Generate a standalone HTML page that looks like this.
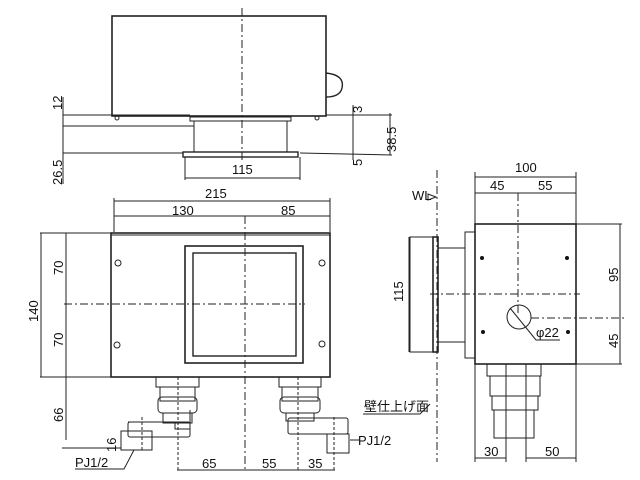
<!DOCTYPE html>
<html><head><meta charset="utf-8"><style>
html,body{margin:0;padding:0;background:#fff;}
svg{display:block}
text{font-family:"Liberation Sans","Noto Sans CJK JP",sans-serif;font-size:13px;fill:#111}
</style></head><body>
<svg width="640" height="480" viewBox="0 0 640 480" xmlns="http://www.w3.org/2000/svg">
<g stroke="#222" fill="none" stroke-width="1">
<!-- TOP VIEW -->
<rect x="112" y="16" width="214" height="100" stroke-width="1.6"/>
<path d="M326 73 Q345 75 342 88 Q340 97 326 97" stroke-width="1.4"/>
<line x1="242" y1="8" x2="242" y2="162" stroke-dasharray="8,3,2,3"/>
<rect x="190" y="117" width="101" height="4"/>
<rect x="194" y="121" width="93" height="31"/>
<rect x="183" y="152" width="115" height="5" stroke-width="1.4"/>
<circle cx="117" cy="118" r="2"/><circle cx="317" cy="118" r="2"/>
<line x1="63" y1="115" x2="190" y2="115"/>
<line x1="63" y1="126" x2="194" y2="126"/>
<line x1="63" y1="153" x2="183" y2="153"/>
<line x1="63" y1="97" x2="63" y2="184"/>
<line x1="326" y1="115" x2="392" y2="115"/>
<line x1="300" y1="153" x2="392" y2="155"/>
<line x1="353" y1="105" x2="353" y2="160"/>
<line x1="390" y1="113" x2="390" y2="155"/>
<line x1="185" y1="157" x2="185" y2="180"/><line x1="300" y1="157" x2="300" y2="180"/>
<line x1="185" y1="178" x2="300" y2="178"/>
<!-- FRONT VIEW -->
<line x1="114" y1="201" x2="330" y2="201"/>
<line x1="114" y1="198" x2="114" y2="232"/><line x1="330" y1="198" x2="330" y2="232"/>
<line x1="114" y1="216" x2="330" y2="216"/>
<rect x="111" y="233" width="219" height="144" stroke-width="1.6"/>
<line x1="111" y1="235" x2="330" y2="235"/>
<rect x="185" y="246" width="118" height="117" stroke-width="1.6"/>
<rect x="193" y="253" width="103" height="103" stroke-width="1.4"/>
<line x1="245" y1="216" x2="245" y2="470" stroke-dasharray="8,3,2,3"/>
<line x1="64" y1="304" x2="305" y2="304" stroke-dasharray="8,3,2,3"/>
<circle cx="118" cy="263" r="3"/><circle cx="322" cy="263" r="3"/>
<circle cx="117" cy="345" r="3"/><circle cx="322" cy="344" r="3"/>
<line x1="40" y1="233" x2="111" y2="233"/><line x1="40" y1="377" x2="111" y2="377"/>
<line x1="41" y1="233" x2="41" y2="377"/><line x1="66" y1="233" x2="66" y2="440"/>
<!-- left fitting -->
<rect x="156" y="377" width="43" height="10"/>
<rect x="160" y="387" width="35" height="14"/><rect x="158" y="397" width="39" height="16" rx="4"/>
<rect x="163" y="413" width="29" height="10"/>
<path d="M128 422 H175 V429 H190 V410" />
<rect x="128" y="422" width="62" height="15" rx="2"/>
<rect x="121" y="431" width="31" height="19"/>
<line x1="142" y1="417" x2="142" y2="452" stroke-dasharray="3,2"/>
<line x1="178" y1="377" x2="178" y2="472" stroke-dasharray="3,2"/>
<line x1="62" y1="448" x2="121" y2="448"/>
<!-- right fitting -->
<rect x="279" y="377" width="42" height="10"/>
<rect x="282" y="387" width="36" height="14"/><rect x="280" y="397" width="40" height="16" rx="4"/>
<rect x="286" y="413" width="28" height="8"/>
<rect x="288" y="418" width="60" height="16" rx="2"/>
<rect x="327" y="434" width="22" height="19"/>
<line x1="334" y1="417" x2="334" y2="472" stroke-dasharray="3,2"/>
<line x1="298" y1="377" x2="298" y2="472" stroke-dasharray="3,2"/>
<line x1="177" y1="470" x2="335" y2="470"/>
<line x1="350" y1="440" x2="360" y2="440"/>
<path d="M75 469 H124 L134 450"/>
<!-- SIDE VIEW -->
<line x1="437" y1="170" x2="437" y2="462" stroke-dasharray="8,3,2,3"/>
<path d="M428 194 L436 197 L428 200 Z"/>
<rect x="410" y="237" width="23" height="115"/>
<rect x="433" y="237" width="5" height="115" stroke-width="1.6"/>
<rect x="438" y="248" width="27" height="94"/>
<rect x="465" y="232" width="10" height="126"/>
<rect x="475" y="224" width="101" height="140" stroke-width="1.6"/>
<line x1="475" y1="177" x2="576" y2="177"/>
<line x1="475" y1="172" x2="475" y2="224"/><line x1="576" y1="172" x2="576" y2="224"/>
<line x1="475" y1="193" x2="576" y2="193"/>
<line x1="518" y1="193" x2="518" y2="316" stroke-dasharray="8,3,2,3"/>
<line x1="430" y1="294" x2="580" y2="294" stroke-dasharray="8,3,2,3"/>
<circle cx="519" cy="317" r="12"/>
<line x1="510" y1="308" x2="536" y2="340"/><line x1="536" y1="340" x2="560" y2="340"/>
<line x1="576" y1="224" x2="622" y2="224"/><line x1="576" y1="364" x2="622" y2="364"/>
<line x1="531" y1="318" x2="625" y2="318" stroke-dasharray="8,3,2,3"/>
<line x1="620" y1="224" x2="620" y2="364"/>
<line x1="409" y1="237" x2="409" y2="352"/>
<!-- bottom fittings side -->
<rect x="487" y="364" width="54" height="12"/>
<rect x="490" y="376" width="50" height="20"/>
<rect x="492" y="396" width="46" height="14"/>
<rect x="494" y="410" width="40" height="28"/>
<line x1="506" y1="364" x2="506" y2="462"/><line x1="526" y1="364" x2="526" y2="462"/>
<line x1="475" y1="364" x2="475" y2="462"/><line x1="576" y1="364" x2="576" y2="462"/>
<line x1="475" y1="458" x2="506" y2="458"/><line x1="526" y1="458" x2="576" y2="458"/>
<path d="M363 414 H420 L430 404"/>
</g>
<g fill="#111">
<circle cx="482" cy="258" r="2"/><circle cx="567" cy="258" r="2"/>
<circle cx="483" cy="332" r="2"/><circle cx="568" cy="332" r="2"/>
</g>
<text x="232" y="174">115</text>
<text x="205" y="198">215</text>
<text x="172" y="215">130</text>
<text x="281" y="215">85</text>
<text transform="translate(62,110) rotate(-90)" font-size="12">12</text>
<text transform="translate(62,185) rotate(-90)" font-size="12">26.5</text>
<text transform="translate(362,113) rotate(-90)" font-size="12">3</text>
<text transform="translate(362,166) rotate(-90)" font-size="12">5</text>
<text transform="translate(396,152) rotate(-90)" font-size="12">38.5</text>
<text transform="translate(38,322) rotate(-90)">140</text>
<text transform="translate(63,275) rotate(-90)">70</text>
<text transform="translate(63,347) rotate(-90)">70</text>
<text transform="translate(63,422) rotate(-90)">66</text>
<text transform="translate(116,452) rotate(-90)" font-size="12">16</text>
<text x="75" y="467">PJ1/2</text>
<text x="358" y="445">PJ1/2</text>
<text x="202" y="468">65</text>
<text x="262" y="468">55</text>
<text x="308" y="468">35</text>
<text x="364" y="411" font-size="11">壁仕上げ面</text>
<text x="412" y="200" font-size="10">WL</text>
<text x="515" y="172">100</text>
<text x="490" y="190">45</text>
<text x="538" y="190">55</text>
<text transform="translate(403,302) rotate(-90)">115</text>
<text transform="translate(618,282) rotate(-90)">95</text>
<text transform="translate(618,348) rotate(-90)">45</text>
<text x="536" y="337">φ22</text>
<text x="484" y="456">30</text>
<text x="545" y="456">50</text>
</svg>
</body></html>
